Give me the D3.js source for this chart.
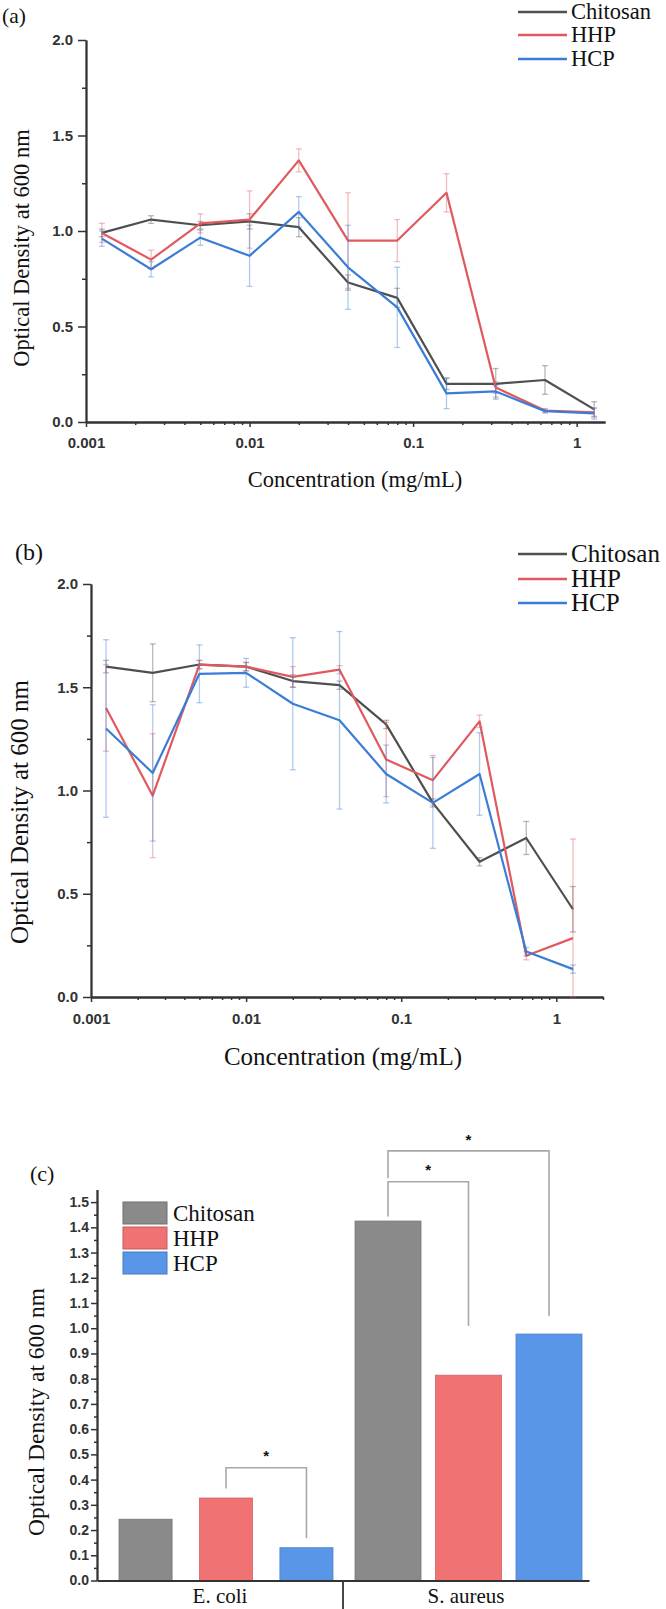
<!DOCTYPE html>
<html>
<head>
<meta charset="utf-8">
<script src="https://cdn.jsdelivr.net/npm/d3@7"></script>
<style>
  body { margin: 0; background: #fff; }
  svg { display: block; }
</style>
</head>
<body>
<svg id="chart" width="666" height="1609"></svg>
<script>
var SERIES = ['Chitosan', 'HHP', 'HCP'];
var CONCENTRATIONS = [0.00125, 0.0025, 0.005, 0.01, 0.02, 0.04, 0.08, 0.16, 0.32, 0.64, 1.28];
var X_TICKS = [0.001, 0.01, 0.1, 1];
var Y_TICKS_LINE = [0.0, 0.5, 1.0, 1.5, 2.0];

// (a)
var chitosan_a = [0.99, 1.06, 1.03, 1.05, 1.02, 0.73, 0.65, 0.20, 0.20, 0.22, 0.066];
var chitosan_a_err = [0.02, 0.02, 0.02, 0.04, 0.05, 0.04, 0.05, 0.03, 0.08, 0.075, 0.04];
var hhp_a = [0.99, 0.85, 1.04, 1.06, 1.37, 0.95, 0.95, 1.20, 0.18, 0.06, 0.05];
var hhp_a_err = [0.05, 0.05, 0.05, 0.15, 0.06, 0.25, 0.11, 0.10, 0.03, 0.01, 0.02];
var hcp_a = [0.96, 0.80, 0.965, 0.87, 1.10, 0.81, 0.60, 0.15, 0.16, 0.057, 0.045];
var hcp_a_err = [0.04, 0.04, 0.04, 0.16, 0.08, 0.22, 0.21, 0.08, 0.03, 0.01, 0.03];

// (b)
var chitosan_b = [1.60, 1.57, 1.61, 1.60, 1.53, 1.51, 1.32, 0.94, 0.655, 0.77, 0.425];
var chitosan_b_err = [0.03, 0.14, 0.02, 0.02, 0.03, 0.02, 0.02, 0.02, 0.02, 0.08, 0.11];
var hhp_b = [1.40, 0.975, 1.61, 1.60, 1.55, 1.585, 1.15, 1.05, 1.335, 0.20, 0.285];
var hhp_b_err = [0.21, 0.30, 0.02, 0.02, 0.05, 0.02, 0.18, 0.12, 0.03, 0.02, 0.48];
var hcp_b = [1.30, 1.085, 1.565, 1.57, 1.42, 1.34, 1.08, 0.94, 1.08, 0.22, 0.135];
var hcp_b_err = [0.43, 0.33, 0.14, 0.07, 0.32, 0.43, 0.14, 0.22, 0.20, 0.02, 0.02];

// (c)
var GROUPS = ['E. coli', 'S. aureus'];
var chitosan_c = [0.243, 1.425];
var hhp_c = [0.327, 0.814];
var hcp_c = [0.130, 0.977];
var Y_TICKS_BAR = [0.0, 0.1, 0.2, 0.3, 0.4, 0.5, 0.6, 0.7, 0.8, 0.9, 1.0, 1.1, 1.2, 1.3, 1.4, 1.5];
var brackets_c = [
  { group: 'E. coli', from: 'HHP', to: 'HCP', y_from: 0.365, y_top: 0.447, y_to: 0.167, star: 0.508 },
  { group: 'S. aureus', from: 'Chitosan', to: 'HHP', y_from: 1.443, y_top: 1.581, y_to: 1.009, star: 1.644 },
  { group: 'S. aureus', from: 'Chitosan', to: 'HCP', y_from: 1.595, y_top: 1.703, y_to: 1.049, star: 1.764 }
];

(function (d3) {

  var LINE_COLORS = { 'Chitosan': '#4f4f4f', 'HHP': '#e0595f', 'HCP': '#3b7dd6' };
  var BAR_COLORS = { 'Chitosan': '#8a8a8a', 'HHP': '#f07273', 'HCP': '#5a96e8' };
  var AXIS_COLOR = '#333';
  var SERIF = '"Liberation Serif", "Times New Roman", serif';
  var SANS = '"Liberation Sans", Arial, sans-serif';

  var svg = d3.select('#chart');
  svg.append('rect').attr('width', 666).attr('height', 1609).attr('fill', '#fff');

  function style_axis(g, font_size) {
    g.select('.domain').attr('stroke', AXIS_COLOR).attr('stroke-width', 1.8);
    g.selectAll('.tick line').attr('stroke', AXIS_COLOR).attr('stroke-width', 1.5);
    g.selectAll('.tick text')
      .attr('fill', AXIS_COLOR)
      .style('font-family', SANS)
      .style('font-weight', 'bold')
      .style('font-size', font_size + 'px');
  }

  function draw_line_panel(cfg) {
    var x = d3.scaleLog().domain([0.001, cfg.x_max]).range([cfg.left, cfg.right]);
    var y = d3.scaleLinear().domain([0, 2]).range([cfg.bottom, cfg.top]);
    var g = svg.append('g');

    var minor_x = x.ticks().filter(function (d) { return X_TICKS.indexOf(d) < 0 && d >= 0.001; });
    g.append('g')
      .attr('transform', 'translate(0,' + cfg.bottom + ')')
      .call(d3.axisBottom(x).tickValues(minor_x).tickSize(3).tickFormat('').tickSizeOuter(0))
      .call(function (a) { style_axis(a, 15); });

    g.append('g')
      .attr('transform', 'translate(0,' + cfg.bottom + ')')
      .call(d3.axisBottom(x).tickValues(X_TICKS).tickSize(5).tickPadding(cfg.x_pad)
        .tickFormat(function (d) { return String(d); }).tickSizeOuter(0))
      .call(function (a) { style_axis(a, 15); });

    var minor_y = Y_TICKS_LINE.slice(1).map(function (d) { return d - 0.25; });
    g.append('g')
      .attr('transform', 'translate(' + cfg.left + ',0)')
      .call(d3.axisLeft(y).tickValues(minor_y).tickSize(4).tickFormat('').tickSizeOuter(0))
      .call(function (a) { style_axis(a, 15); });

    g.append('g')
      .attr('transform', 'translate(' + cfg.left + ',0)')
      .call(d3.axisLeft(y).tickValues(Y_TICKS_LINE).tickSize(8).tickPadding(5)
        .tickFormat(d3.format('.1f')).tickSizeOuter(0))
      .call(function (a) { style_axis(a, 15); });

    var line = d3.line()
      .x(function (d) { return x(d.c); })
      .y(function (d) { return y(d.v); });

    cfg.series.forEach(function (s) {
      var pts = CONCENTRATIONS.map(function (c, i) { return { c: c, v: s.values[i], e: s.errors[i] }; });
      var color = LINE_COLORS[s.name];

      var eb = g.append('g').attr('stroke', color).attr('stroke-opacity', 0.4).attr('stroke-width', 1.3);
      pts.forEach(function (p) {
        var cx = x(p.c);
        var y_hi = y(p.v + p.e);
        var y_lo = y(Math.max(0, p.v - p.e));
        eb.append('line').attr('x1', cx).attr('x2', cx).attr('y1', y_hi).attr('y2', y_lo);
        eb.append('line').attr('x1', cx - 3).attr('x2', cx + 3).attr('y1', y_hi).attr('y2', y_hi);
        eb.append('line').attr('x1', cx - 3).attr('x2', cx + 3).attr('y1', y_lo).attr('y2', y_lo);
      });

      g.append('path')
        .datum(pts)
        .attr('fill', 'none')
        .attr('stroke', color)
        .attr('stroke-width', 2.2)
        .attr('stroke-linejoin', 'round')
        .attr('d', line);
    });

    // legend
    SERIES.forEach(function (name, i) {
      var ly = cfg.legend_y[i];
      g.append('line')
        .attr('x1', cfg.legend_x).attr('x2', cfg.legend_x + 49)
        .attr('y1', ly).attr('y2', ly)
        .attr('stroke', LINE_COLORS[name]).attr('stroke-width', 2.4);
      g.append('text')
        .attr('x', cfg.legend_x + 53).attr('y', ly)
        .attr('dy', '0.33em')
        .style('font-family', SERIF).style('font-size', cfg.font + 'px')
        .attr('fill', '#111')
        .text(name);
    });

    g.append('text')
      .attr('x', cfg.tag_x).attr('y', cfg.tag_y)
      .style('font-family', SERIF).style('font-size', (cfg.font - 1) + 'px')
      .attr('fill', '#111')
      .text(cfg.tag);

    g.append('text')
      .attr('transform', 'translate(' + cfg.ylabel_x + ',' + cfg.ylabel_y + ') rotate(-90)')
      .attr('text-anchor', 'middle').attr('dy', '0.33em')
      .style('font-family', SERIF).style('font-size', cfg.font + 'px')
      .attr('fill', '#111')
      .text('Optical Density at 600 nm');

    g.append('text')
      .attr('x', cfg.xlabel_x).attr('y', cfg.xlabel_y)
      .attr('text-anchor', 'middle').attr('dy', '0.33em')
      .style('font-family', SERIF).style('font-size', cfg.font + 'px')
      .attr('fill', '#111')
      .text('Concentration (mg/mL)');
  }

  draw_line_panel({
    tag: '(a)', tag_x: 2, tag_y: 23,
    left: 86, right: 605, top: 40, bottom: 422, x_max: 1.49, x_pad: 10,
    font: 22.5,
    legend_x: 518, legend_y: [12, 35, 59],
    ylabel_x: 22, ylabel_y: 248,
    xlabel_x: 355, xlabel_y: 480,
    series: [
      { name: 'Chitosan', values: chitosan_a, errors: chitosan_a_err },
      { name: 'HHP', values: hhp_a, errors: hhp_a_err },
      { name: 'HCP', values: hcp_a, errors: hcp_a_err }
    ]
  });

  draw_line_panel({
    tag: '(b)', tag_x: 15, tag_y: 560,
    left: 91, right: 603, top: 584, bottom: 997, x_max: 2, x_pad: 11,
    font: 25,
    legend_x: 518, legend_y: [554, 579, 603],
    ylabel_x: 20, ylabel_y: 812,
    xlabel_x: 343, xlabel_y: 1057,
    series: [
      { name: 'Chitosan', values: chitosan_b, errors: chitosan_b_err },
      { name: 'HHP', values: hhp_b, errors: hhp_b_err },
      { name: 'HCP', values: hcp_b, errors: hcp_b_err }
    ]
  });

  // (c) bar chart
  var C_LEFT = 97, C_RIGHT = 589, C_BOTTOM = 1580.5, C_TOP = 1189.5;
  var BAR_LAYOUT = {
    'E. coli': { x0: 119, x1: 333, pad: 0.34 },
    'S. aureus': { x0: 355, x1: 582, pad: 0.18 }
  };
  var values_c = { 'Chitosan': chitosan_c, 'HHP': hhp_c, 'HCP': hcp_c };

  var gx = d3.scaleBand().domain(GROUPS).range([C_LEFT, C_RIGHT]);
  var yc = d3.scaleLinear().domain([0, 1.55]).range([C_BOTTOM, C_TOP]);
  var inner = {};
  GROUPS.forEach(function (grp) {
    var l = BAR_LAYOUT[grp];
    inner[grp] = d3.scaleBand().domain(SERIES).range([l.x0, l.x1]).paddingInner(l.pad).paddingOuter(0);
  });

  var gc = svg.append('g');

  GROUPS.forEach(function (grp, gi) {
    SERIES.forEach(function (name) {
      var v = values_c[name][gi];
      gc.append('rect')
        .attr('x', inner[grp](name))
        .attr('width', inner[grp].bandwidth())
        .attr('y', yc(v))
        .attr('height', yc(0) - yc(v))
        .attr('fill', BAR_COLORS[name])
        .attr('stroke', d3.color(BAR_COLORS[name]).darker(0.4))
        .attr('stroke-width', 0.8);
    });
  });

  var minor_c = Y_TICKS_BAR.slice(1).map(function (d) { return d - 0.05; });
  gc.append('g')
    .attr('transform', 'translate(' + C_LEFT + ',0)')
    .call(d3.axisLeft(yc).tickValues(minor_c).tickSize(3).tickFormat('').tickSizeOuter(0))
    .call(function (a) { style_axis(a, 14); });
  gc.append('g')
    .attr('transform', 'translate(' + C_LEFT + ',0)')
    .call(d3.axisLeft(yc).tickValues(Y_TICKS_BAR).tickSize(6).tickPadding(2)
      .tickFormat(d3.format('.1f')).tickSizeOuter(0))
    .call(function (a) { style_axis(a, 14); });

  var xa = gc.append('g')
    .attr('transform', 'translate(0,' + C_BOTTOM + ')')
    .call(d3.axisBottom(gx).tickSize(0).tickPadding(8).tickSizeOuter(0))
    .call(function (a) { style_axis(a, 21); });
  xa.selectAll('.tick text').style('font-family', SERIF).style('font-weight', 'normal').attr('fill', '#111');

  var divider_x = gx('S. aureus');
  gc.append('line')
    .attr('x1', divider_x).attr('x2', divider_x)
    .attr('y1', C_BOTTOM).attr('y2', 1609)
    .attr('stroke', AXIS_COLOR).attr('stroke-width', 1.8);

  brackets_c.forEach(function (b) {
    var sc = inner[b.group];
    var xa0 = sc(b.from) + sc.bandwidth() / 2;
    var xa1 = sc(b.to) + sc.bandwidth() / 2;
    gc.append('path')
      .attr('fill', 'none')
      .attr('stroke', '#a8a8a8')
      .attr('stroke-width', 1.6)
      .attr('d', 'M' + xa0 + ',' + yc(b.y_from) + 'V' + yc(b.y_top) + 'H' + xa1 + 'V' + yc(b.y_to));
    gc.append('text')
      .attr('x', (xa0 + xa1) / 2).attr('y', yc(b.star) + 9)
      .attr('text-anchor', 'middle')
      .style('font-family', SANS).style('font-weight', 'bold').style('font-size', '15px')
      .attr('fill', '#111')
      .text('*');
  });

  var legend_rows = [1202, 1227, 1252];
  SERIES.forEach(function (name, i) {
    gc.append('rect')
      .attr('x', 123).attr('y', legend_rows[i])
      .attr('width', 44).attr('height', 22)
      .attr('fill', BAR_COLORS[name])
      .attr('stroke', d3.color(BAR_COLORS[name]).darker(0.6))
      .attr('stroke-width', 1);
    gc.append('text')
      .attr('x', 173).attr('y', legend_rows[i] + 11)
      .attr('dy', '0.33em')
      .style('font-family', SERIF).style('font-size', '23px')
      .attr('fill', '#111')
      .text(name);
  });

  gc.append('text')
    .attr('x', 30).attr('y', 1181)
    .style('font-family', SERIF).style('font-size', '22px')
    .attr('fill', '#111')
    .text('(c)');

  gc.append('text')
    .attr('transform', 'translate(36,1412) rotate(-90)')
    .attr('text-anchor', 'middle').attr('dy', '0.33em')
    .style('font-family', SERIF).style('font-size', '23.5px')
    .attr('fill', '#111')
    .text('Optical Density at 600 nm');

})(d3);
</script>
</body>
</html>
